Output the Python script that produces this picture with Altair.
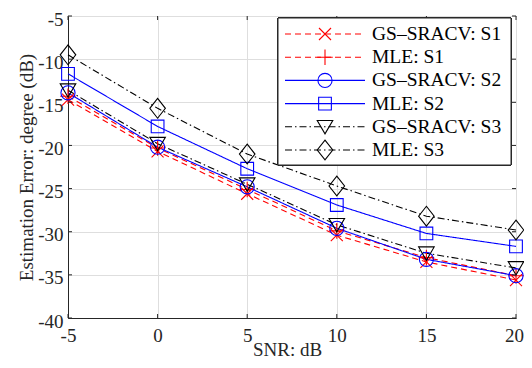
import altair as alt
import pandas as pd

snr = [-5, 0, 5, 10, 15, 20]
series_names = ["GS–SRACV: S1", "MLE: S1", "GS–SRACV: S2", "MLE: S2", "GS–SRACV: S3", "MLE: S3"]
gs_s1 = [-14.7, -20.7, -25.6, -30.4, -33.5, -35.6]
mle_s1 = [-14.3, -20.3, -25.1, -29.9, -33.0, -35.1]
gs_s2 = [-13.9, -20.2, -24.8, -29.6, -33.2, -35.1]
mle_s2 = [-11.7, -17.8, -22.7, -26.9, -30.2, -31.7]
gs_s3 = [-13.6, -19.8, -24.5, -29.2, -32.5, -34.2]
mle_s3 = [-9.5, -15.7, -21.0, -24.7, -28.2, -29.8]
x_ticks = [-5, 0, 5, 10, 15, 20]
y_ticks = [-40, -35, -30, -25, -20, -15, -10, -5]

values = [gs_s1, mle_s1, gs_s2, mle_s2, gs_s3, mle_s3]
rows = []
for name, vals in zip(series_names, values):
    for s, v in zip(snr, vals):
        rows.append({"snr": s, "value": v, "series": name})
df = pd.DataFrame(rows)
leg = pd.DataFrame({"series": series_names, "row": list(range(len(series_names)))})

colors = ["#ff0000", "#ff0000", "#0000ff", "#0000ff", "#000000", "#000000"]
dashes = [[6, 4], [6, 4], [1, 0], [1, 0], [7, 3, 1.5, 3], [7, 3, 1.5, 3]]
shapes = [
    "M-0.85,-0.85L0.85,0.85M-0.85,0.85L0.85,-0.85",
    "M-1.1,0L1.1,0M0,-1.1L0,1.1",
    "circle",
    "M-0.9,-0.9L0.9,-0.9L0.9,0.9L-0.9,0.9Z",
    "M-1.1,-0.9L1.1,-0.9L0,1.0Z",
    "M0,-1.4L1.1,0L0,1.4L-1.1,0Z",
]

FONT = "Liberation Serif"
W, H = 448, 302
TXT = "#262626"

color_enc = alt.Color("series:N", scale=alt.Scale(domain=series_names, range=colors), legend=None)
dash_enc = alt.StrokeDash("series:N", scale=alt.Scale(domain=series_names, range=dashes), legend=None)
shape_enc = alt.Shape("series:N", scale=alt.Scale(domain=series_names, range=shapes), legend=None)
order_enc = alt.Order("snr:Q")

xs = alt.Scale(domain=[-5, 20], nice=False, zero=False)
ys = alt.Scale(domain=[-40, -5], nice=False, zero=False)

x_enc = alt.X("snr:Q", scale=xs, axis=alt.Axis(
    values=x_ticks, title="SNR: dB", grid=True, gridColor="#dedede", domainColor=TXT,
    tickSize=0, labelFont=FONT, labelFontSize=19, labelColor=TXT, labelPadding=8,
    labelExpr="'' + datum.value", labelFlush=False,
    labelOffset={"condition": {"test": "datum.value == 20", "value": -2}, "value": 0},
    titleFont=FONT, titleFontSize=19, titleFontWeight="normal", titleColor=TXT,
    titleX=219, titleY=37, titleBaseline="alphabetic"))
y_enc = alt.Y("value:Q", scale=ys, axis=alt.Axis(
    values=y_ticks, title="Estimation Error: degree (dB)", grid=True, gridColor="#dedede",
    domainColor=TXT, tickSize=0, labelFont=FONT, labelFontSize=19, labelColor=TXT,
    labelPadding=5, labelOffset=3, labelExpr="'' + datum.value", labelFlush=False,
    titleFont=FONT, titleFontSize=19, titleFontWeight="normal", titleColor=TXT,
    titlePadding=1.5))

base = alt.Chart(df)
lines = base.mark_line(strokeWidth=1.1).encode(x=x_enc, y=y_enc, color=color_enc, strokeDash=dash_enc,
                                               detail="series:N", order=order_enc)
points = base.mark_point(filled=False, strokeWidth=1.1, size=200, opacity=1).encode(
    x=alt.X("snr:Q", scale=xs), y=alt.Y("value:Q", scale=ys),
    color=color_enc, shape=shape_enc)

xt = pd.DataFrame({"t": x_ticks})
yt = pd.DataFrame({"t": y_ticks})
tick_style = dict(color=TXT, strokeWidth=1)
xtick_b = alt.Chart(xt).mark_rule(**tick_style).encode(x=alt.X("t:Q", scale=xs), y=alt.value(H), y2=alt.value(H - 4))
xtick_t = alt.Chart(xt).mark_rule(**tick_style).encode(x=alt.X("t:Q", scale=xs), y=alt.value(0), y2=alt.value(4))
ytick_l = alt.Chart(yt).mark_rule(**tick_style).encode(y=alt.Y("t:Q", scale=ys), x=alt.value(0), x2=alt.value(4))
ytick_r = alt.Chart(yt).mark_rule(**tick_style).encode(y=alt.Y("t:Q", scale=ys), x=alt.value(W), x2=alt.value(W - 4))

main = alt.layer(lines, points, xtick_b, xtick_t, ytick_l, ytick_r)

# legend
row_scale = alt.Scale(domain=[0, 5], range=[18, 134])
lbox = alt.Chart(leg).mark_rect(fill="white", stroke=TXT, strokeWidth=1).encode(
    x=alt.value(210), x2=alt.value(443), y=alt.value(2), y2=alt.value(149))
llines = alt.Chart(leg).mark_rule(strokeWidth=1.1).encode(
    x=alt.value(217), x2=alt.value(297), y=alt.Y("row:Q", scale=row_scale, axis=None),
    color=color_enc, strokeDash=dash_enc)
lpoints = alt.Chart(leg).mark_point(filled=False, strokeWidth=1.1, size=200, opacity=1).encode(
    x=alt.value(257), y=alt.Y("row:Q", scale=row_scale, axis=None), color=color_enc, shape=shape_enc)
ltext = alt.Chart(leg).mark_text(align="left", baseline="middle", font=FONT, fontSize=19.5, color="#000000").encode(
    x=alt.value(304), y=alt.Y("row:Q", scale=row_scale, axis=None), text="series:N")

chart = alt.layer(main, lbox, llines, lpoints, ltext).resolve_scale(y="independent").properties(
    width=W, height=H,
    padding={"left": 60, "top": 8, "right": 8, "bottom": 42},
    autosize=alt.AutoSizeParams(type="none"),
).configure_view(stroke=TXT, strokeWidth=1)

chart.save("out.html", embed_options={"renderer": "svg", "actions": False})
